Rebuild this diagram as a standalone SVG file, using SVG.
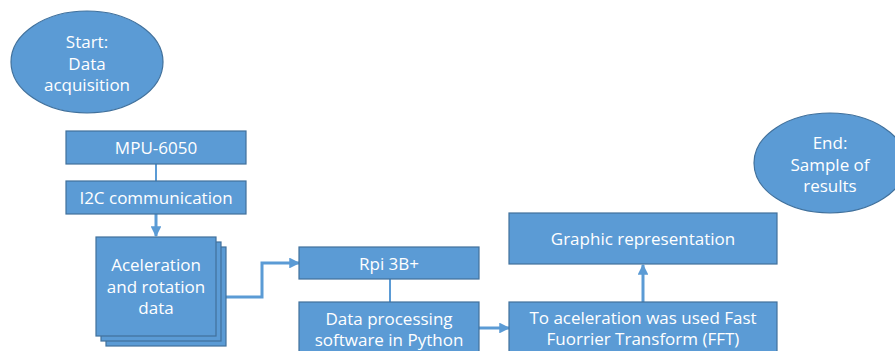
<svg xmlns="http://www.w3.org/2000/svg" width="895" height="351" viewBox="0 0 895 351">
<defs>
<style>
.n{fill:#5B9BD5;stroke:#41719C;stroke-width:1.2}
.t{fill:#fff;font-family:"Open Sans","Liberation Sans",sans-serif;font-size:17px;text-anchor:middle}
.c{fill:none;stroke:#5B9BD5;stroke-width:3}
.c1{fill:none;stroke:#5B9BD5;stroke-width:2}
</style>
<marker id="ah" viewBox="0 0 10 10" refX="9" refY="5" markerWidth="3.6" markerHeight="3.6" orient="auto" markerUnits="strokeWidth">
<path d="M0,0 L10,5 L0,10 z" fill="#5B9BD5"/>
</marker>
</defs>
<rect width="895" height="351" fill="#fff"/>
<g id="connectors">
<line class="c1" x1="156" y1="164" x2="156" y2="181"/>
<line class="c" x1="156" y1="214" x2="156" y2="236" marker-end="url(#ah)"/>
<polyline class="c" points="226,297 262,297 262,263 299,263" marker-end="url(#ah)"/>
<line class="c1" x1="390" y1="279" x2="390" y2="302"/>
<line class="c" x1="479" y1="328" x2="509" y2="328" marker-end="url(#ah)"/>
<line class="c" x1="643" y1="302" x2="643" y2="265" marker-end="url(#ah)"/>
</g>
<g id="start">
<ellipse class="n" cx="87" cy="62" rx="76" ry="51"/>
<text class="t" x="87" y="48">Start:</text>
<text class="t" x="87" y="70">Data</text>
<text class="t" x="87" y="91">acquisition</text>
</g>
<g id="mpu">
<rect class="n" x="66" y="131" width="180" height="33"/>
<text class="t" x="156" y="154">MPU-6050</text>
</g>
<g id="i2c">
<rect class="n" x="66" y="181" width="180" height="33"/>
<text class="t" x="156" y="204">I2C communication</text>
</g>
<g id="data">
<rect class="n" x="106" y="247" width="120" height="99"/>
<rect class="n" x="101" y="242" width="120" height="99"/>
<rect class="n" x="96" y="237" width="120" height="99"/>
<text class="t" x="156" y="271">Aceleration</text>
<text class="t" x="156" y="293">and rotation</text>
<text class="t" x="156" y="314">data</text>
</g>
<g id="rpi">
<rect class="n" x="299" y="247" width="180" height="32"/>
<text class="t" x="389" y="270">Rpi 3B+</text>
</g>
<g id="software">
<rect class="n" x="299" y="302" width="180" height="60"/>
<text class="t" x="389" y="325">Data processing</text>
<text class="t" x="389" y="346">software in Python</text>
</g>
<g id="fft">
<rect class="n" x="509" y="302" width="268" height="60"/>
<text class="t" x="643" y="324">To aceleration was used Fast</text>
<text class="t" x="643" y="345">Fuorrier Transform (FFT)</text>
</g>
<g id="graphic">
<rect class="n" x="509" y="213" width="268" height="51"/>
<text class="t" x="643" y="245">Graphic representation</text>
</g>
<g id="end">
<ellipse class="n" cx="830" cy="163" rx="76" ry="50"/>
<text class="t" x="830" y="149">End:</text>
<text class="t" x="830" y="171">Sample of</text>
<text class="t" x="830" y="192">results</text>
</g>
</svg>
